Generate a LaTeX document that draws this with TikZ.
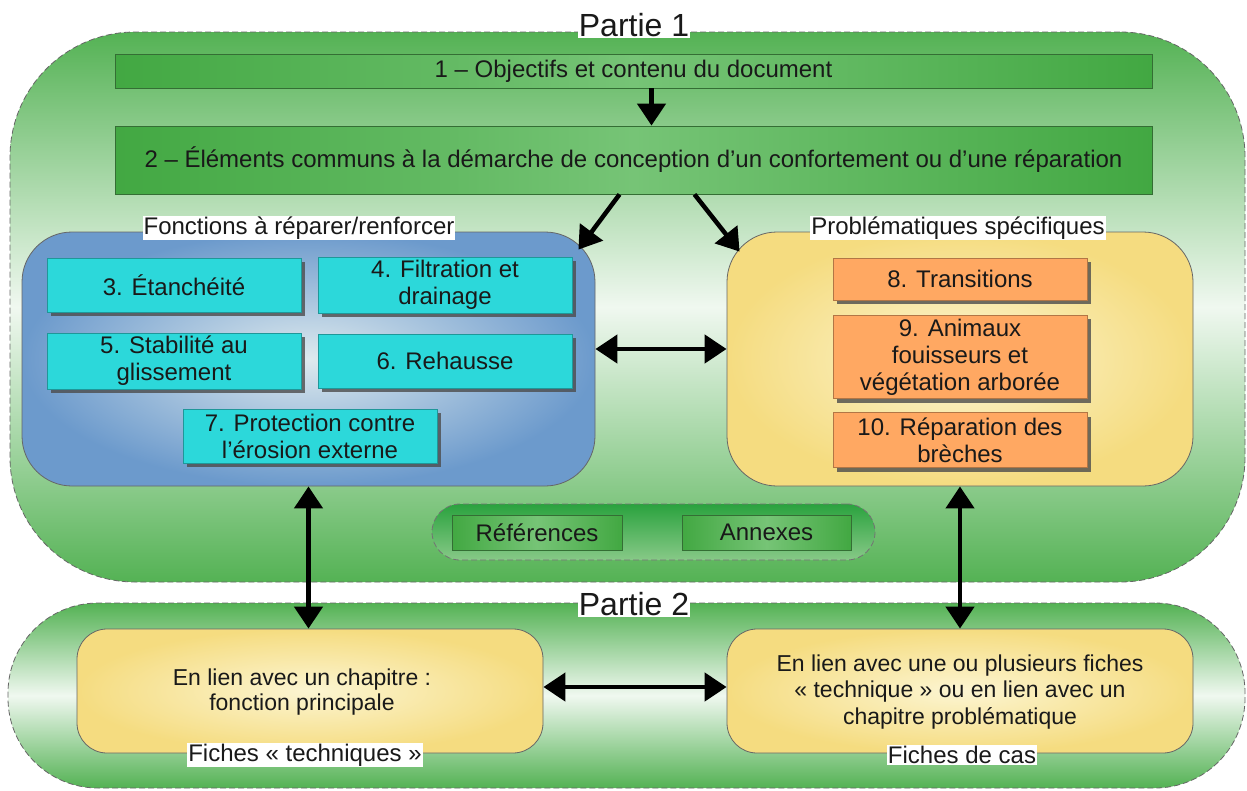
\documentclass[tikz,border=0pt]{standalone}
\usepackage{fontspec}
\setmainfont{Liberation Sans}
\usetikzlibrary{arrows.meta,shadows}
\definecolor{partgreen}{RGB}{84,178,84}
\definecolor{partlight}{RGB}{240,248,240}
\definecolor{boxgreen}{RGB}{66,168,66}
\definecolor{boxgreenlight}{RGB}{118,196,118}
\definecolor{boxborder}{RGB}{52,110,52}
\definecolor{annexgreen}{RGB}{42,162,62}
\definecolor{bluedark}{RGB}{108,154,204}
\definecolor{bluelight}{RGB}{222,234,238}
\definecolor{yellowdark}{RGB}{245,220,128}
\definecolor{yellowlight}{RGB}{252,245,210}
\definecolor{cyanbox}{RGB}{44,216,218}
\definecolor{orangebox}{RGB}{255,168,98}
\definecolor{textdark}{RGB}{25,25,25}
\tikzstyle{every node}=[font=\fontsize{24}{27}\selectfont, text=textdark]
\tikzstyle{partie}=[draw=black!60, dash pattern=on 6pt off 3pt, line width=0.8pt, top color=partgreen, bottom color=partgreen, middle color=partlight]
\tikzstyle{partlabel}=[fill=white, inner sep=1pt, font=\fontsize{32}{36}\selectfont]
\tikzstyle{greenbar}=[draw=boxborder, line width=0.8pt, left color=boxgreen, right color=boxgreen, middle color=boxgreenlight]
\tikzstyle{groupbox}=[draw=black!60, line width=0.8pt, rounded corners=50pt]
\tikzstyle{bluegroup}=[groupbox, inner color=bluelight, outer color=bluedark]
\tikzstyle{yellowgroup}=[groupbox, inner color=yellowlight, outer color=yellowdark]
\tikzstyle{grouplabel}=[fill=white, inner sep=1pt]
\tikzstyle{chapter}=[line width=0.6pt, minimum width=254pt, align=center, drop shadow={shadow xshift=4pt, shadow yshift=-4pt, fill=black!70, opacity=0.8}]
\tikzstyle{fonction}=[chapter, fill=cyanbox, draw=cyanbox!70!black]
\tikzstyle{probleme}=[chapter, fill=orangebox, draw=orangebox!70!black]
\tikzstyle{link}=[line width=4.5pt, -{Triangle[length=22pt,width=28pt]}]
\tikzstyle{biglink}=[line width=4.5pt, {Triangle[length=22pt,width=28pt]}-{Triangle[length=22pt,width=28pt]}]

\begin{document}
\begin{tikzpicture}[x=1pt, y=-1pt]
    \path[use as bounding box, fill=white] (0,0) rectangle (1247,790);

    \node[partie, rounded corners=125pt, minimum width=1235pt, minimum height=550pt] (partie1) at (627.5,307) {};
    \node[partie, rounded corners=90pt, minimum width=1237pt, minimum height=185pt] (partie2) at (626.5,695.5) {};
    \node[partlabel] (titre1) at (634,25) {Partie 1};
    \node[partlabel] (titre2) at (634,604) {Partie 2};

    \node[greenbar, minimum width=1037pt, minimum height=34pt] (obj) at (633.5,71)
        {1 -- Objectifs et contenu du document};
    \node[greenbar, minimum width=1037pt, minimum height=68pt] (elem) at (633.5,160)
        {2 -- Éléments communs à la démarche de conception d’un confortement ou d’une réparation};

    \node[bluegroup, minimum width=573pt, minimum height=254pt] (fonctions) at (308.5,359) {};
    \node[yellowgroup, minimum width=466pt, minimum height=254pt] (problemes) at (960,359) {};
    \node[grouplabel] (fonctlabel) at (299,228) {Fonctions à réparer/renforcer};
    \node[grouplabel] (problabel) at (958,228) {Problématiques spécifiques};

    \node[fonction, minimum height=54pt] (etanch) at (174,285) {3. Étanchéité};
    \node[fonction, minimum height=54pt] (filtr) at (445,285) {4. Filtration et\\drainage};
    \node[fonction, minimum height=54pt] (stab) at (174,361) {5. Stabilité au\\glissement};
    \node[fonction, minimum height=54pt] (rehau) at (445,361) {6. Rehausse};
    \node[fonction, minimum height=54pt] (erosion) at (310,436) {7. Protection contre\\l’érosion externe};

    \node[probleme, minimum height=42pt] (trans) at (960,279) {8. Transitions};
    \node[probleme, minimum height=82pt] (anim) at (960,357) {9. Animaux\\fouisseurs et\\végétation arborée};
    \node[probleme, minimum height=55pt] (breche) at (960,440) {10. Réparation des\\brèches};

    \node[draw=black!55, dash pattern=on 6pt off 3pt, line width=0.8pt, rounded corners=28pt,
        minimum width=443pt, minimum height=56pt, top color=annexgreen, bottom color=partgreen!70!white]
        (annexgroup) at (653.5,532) {};
    \node[greenbar, minimum width=170pt, minimum height=35pt] (refs) at (537,532.5) {Références};
    \node[greenbar, minimum width=169pt, minimum height=35pt] (annexes) at (766.5,532.5) {Annexes};

    \node[yellowgroup, rounded corners=30pt, minimum width=466pt, minimum height=124pt] (techniques) at (310,691) {};
    \node[yellowgroup, rounded corners=30pt, minimum width=466pt, minimum height=124pt] (cas) at (960,691) {};
    \node[align=center, font=\fontsize{23}{25}\selectfont] (techtxt) at (302,692)
        {En lien avec un chapitre :\\fonction principale};
    \node[align=center, font=\fontsize{23}{26.5}\selectfont] (castxt) at (960,692)
        {En lien avec une ou plusieurs fiches\\« technique » ou en lien avec un\\chapitre problématique};
    \node[grouplabel] (techlabel) at (305,755) {Fiches « techniques »};
    \node[grouplabel] (caslabel) at (962,755) {Fiches de cas};

    \draw[link] ([xshift=18pt]obj.south) -- ([xshift=18pt]elem.north);
    \draw[link] ([xshift=-14pt]elem.south) -- ([xshift=-17pt,yshift=-18pt]fonctions.north east);
    \draw[link] ([xshift=61pt]elem.south) -- ([xshift=13pt,yshift=-20pt]problemes.north west);
    \draw[biglink] ([yshift=10pt]fonctions.east) -- ([yshift=10pt]problemes.west);
    \draw[biglink] (fonctions.south) -- (fonctions.south |- techniques.north);
    \draw[biglink] (problemes.south) -- (problemes.south |- cas.north);
    \draw[biglink] ([yshift=4pt]techniques.east) -- ([yshift=4pt]cas.west);
\end{tikzpicture}
\end{document}
